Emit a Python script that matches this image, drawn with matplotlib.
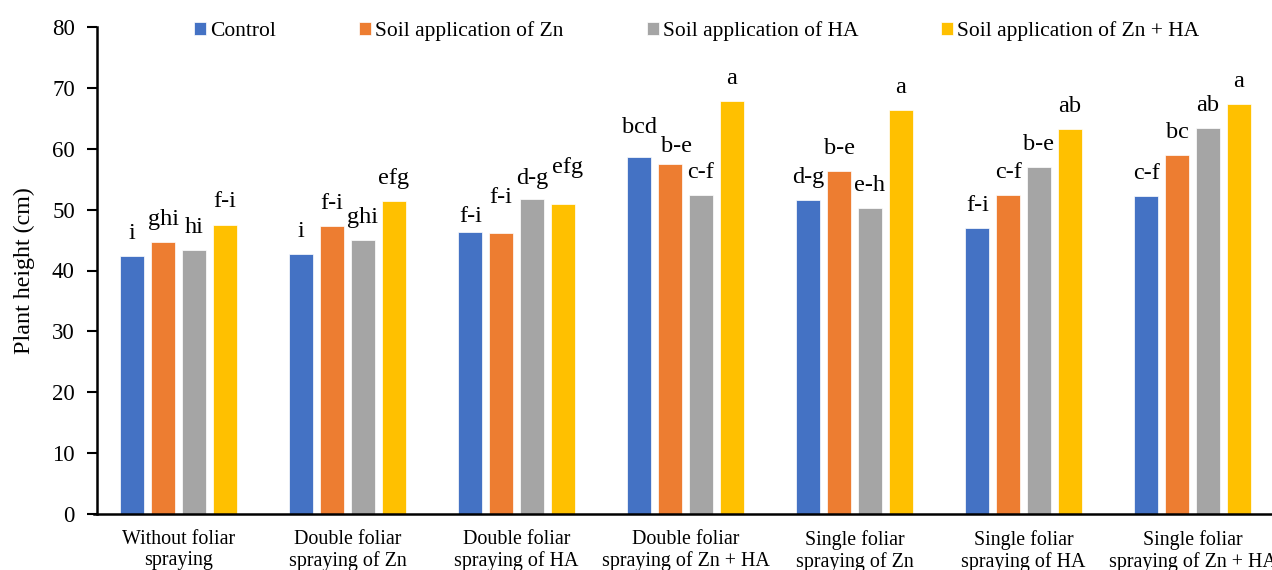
import matplotlib
matplotlib.use("Agg")
import matplotlib.pyplot as plt
import numpy as np

plt.rcParams['font.family'] = ['Liberation Serif', 'DejaVu Serif']

categories = ["Without foliar\nspraying", "Double foliar\nspraying of Zn", "Double foliar\nspraying of HA",
              "Double foliar\nspraying of Zn + HA", "Single foliar\nspraying of Zn", "Single foliar\nspraying of HA",
              "Single foliar\nspraying of Zn + HA"]
series_names = ["Control", "Soil application of Zn", "Soil application of HA", "Soil application of Zn + HA"]
control = [42.4, 42.7, 46.3, 58.6, 51.6, 47.0, 52.2]
soil_zn = [44.7, 47.3, 46.1, 57.5, 56.3, 52.4, 58.9]
soil_ha = [43.3, 45.0, 51.7, 52.4, 50.2, 57.0, 63.4]
soil_zn_ha = [47.5, 51.4, 50.9, 67.8, 66.3, 63.2, 67.3]
letters_control = ["i", "i", "f-i", "bcd", "d-g", "f-i", "c-f"]
letters_zn = ["ghi", "f-i", "f-i", "b-e", "b-e", "c-f", "bc"]
letters_ha = ["hi", "ghi", "d-g", "c-f", "e-h", "b-e", "ab"]
letters_znha = ["f-i", "efg", "efg", "a", "a", "ab", "a"]
colors = ["#4472C4", "#ED7D31", "#A5A5A5", "#FFC000"]

# manual label placement tweaks (series index, group index) -> (dx, dy) in pixels
label_nudges = {(0, 2): (0, -7), (1, 2): (0, 13), (2, 2): (0, -2), (3, 2): (5, 14),
                (0, 3): (0, 7), (1, 3): (6, -5)}

W, H = 1272, 570
fig = plt.figure(figsize=(W / 100, H / 100), dpi=100)
left, right = 94, 1277
bottom, top = 514, 27
ax = fig.add_axes([left / W, (H - bottom) / H, (right - left) / W, (bottom - top) / H])

px = 72 / 100.0
x = np.arange(len(categories))
pitch = 0.182
bw = 0.143
data = [control, soil_zn, soil_ha, soil_zn_ha]
letters = [letters_control, letters_zn, letters_ha, letters_znha]
for i, (vals, lab, c, name) in enumerate(zip(data, letters, colors, series_names)):
    xs = x + (i - 1.5) * pitch
    ax.bar(xs, vals, width=bw, color=c, label=name, edgecolor='white', linewidth=0.5)
    for j, (xi, v, t) in enumerate(zip(xs, vals, lab)):
        dx, dy = label_nudges.get((i, j), (0, 0))
        ax.annotate(t, (xi, v), xytext=(dx * px, 12.5 + dy * px), textcoords='offset points',
                    ha='center', va='baseline', fontsize=17.5)

ax.set_xlim(-0.5, len(categories) - 0.5)
ax.set_ylim(0, 80)
ax.set_yticks(np.arange(0, 81, 10))
ax.set_xticks(x)
ax.set_xticklabels(categories, fontsize=14.4, linespacing=1.15)
ax.tick_params(axis='x', length=0, pad=11.5)
ax.tick_params(axis='y', length=7, width=1.5, labelsize=16.5, pad=9, direction='out')
for s in ['top', 'right']:
    ax.spines[s].set_visible(False)
ax.spines['left'].set_linewidth(1.8)
ax.spines['bottom'].set_linewidth(1.8)
ax.spines['left'].set_position(('data', -0.482))
ax.set_ylabel("Plant height (cm)", fontsize=17.3, labelpad=12)

fig.legend(loc='center', bbox_to_anchor=(697 / W, 1 - 31 / H), ncol=4, frameon=False,
           fontsize=15.5, handlelength=0.55, handleheight=0.55, handletextpad=0.2,
           columnspacing=3.85)

fig.savefig("out.png", dpi=100)
